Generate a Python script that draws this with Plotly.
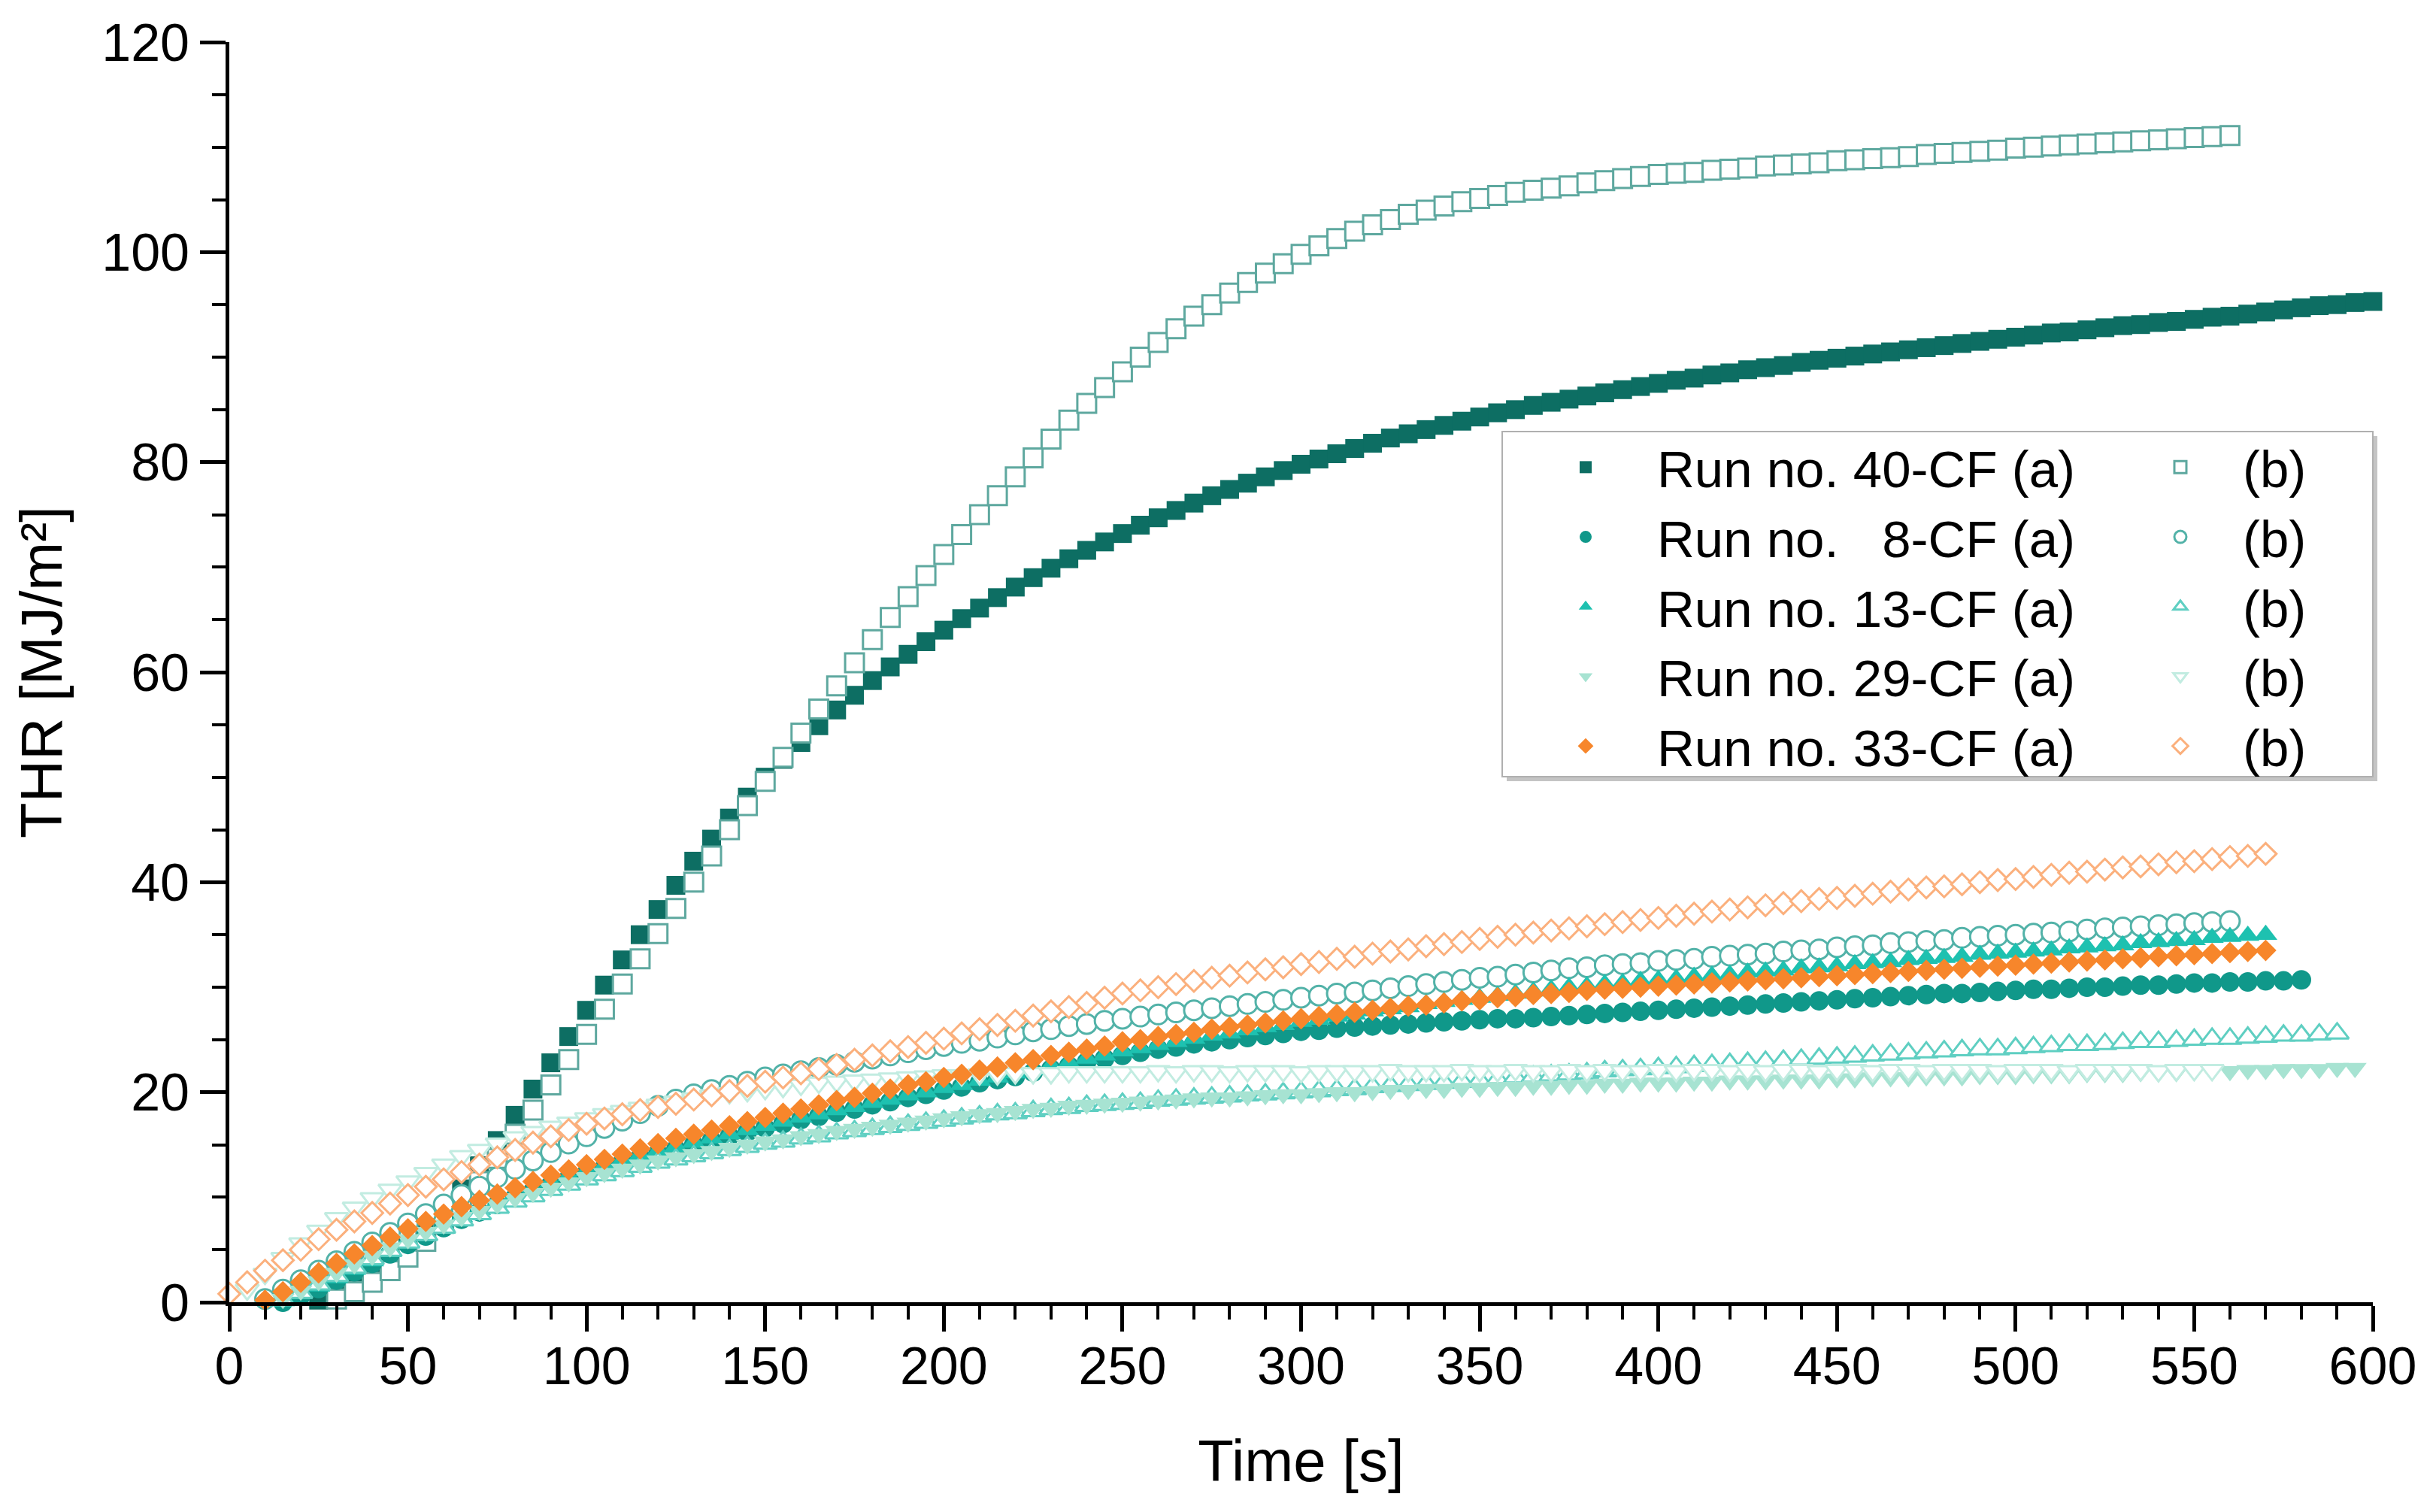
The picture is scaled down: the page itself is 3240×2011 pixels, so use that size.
import plotly.graph_objects as go

# ---------------- data ----------------
TIME = [0, 5, 10, 15, 20, 25, 30, 35, 40, 45, 50, 55, 60, 65, 70, 75, 80, 85, 90, 95,
        100, 105, 110, 115, 120, 125, 130, 135, 140, 145, 150, 155, 160, 165, 170, 175,
        180, 185, 190, 195, 200, 205, 210, 215, 220, 225, 230, 235, 240, 245, 250, 255,
        260, 265, 270, 275, 280, 285, 290, 295, 300, 305, 310, 315, 320, 325, 330, 335,
        340, 345, 350, 355, 360, 365, 370, 375, 380, 385, 390, 395, 400, 405, 410, 415,
        420, 425, 430, 435, 440, 445, 450, 455, 460, 465, 470, 475, 480, 485, 490, 495,
        500, 505, 510, 515, 520, 525, 530, 535, 540, 545, 550, 555, 560, 565, 570, 575,
        580, 585, 590, 595, 600]

# first sample time of each series
START_40A, START_40B = 25, 30
START_8A, START_8B = 15, 10
START_13A, START_13B = 15, 15
START_29A, START_29B = 15, 5
START_33A, START_33B = 10, 0

THR_40A = [0.2, 0.9, 1.8, 2.8, 4.0, 5.4, 7.0, 8.8, 10.8, 13.0,
           15.4, 17.8, 20.3, 22.8, 25.3, 27.8, 30.2, 32.6, 35.0, 37.4,
           39.7, 42.0, 44.1, 46.1, 48.1, 50.0, 51.7, 53.3, 54.9, 56.4,
           57.8, 59.2, 60.5, 61.7, 62.9, 64.0, 65.1, 66.1, 67.1, 68.1,
           69.0, 69.9, 70.8, 71.6, 72.4, 73.2, 74.0, 74.7, 75.4, 76.1,
           76.8, 77.4, 78.0, 78.6, 79.2, 79.8, 80.3, 80.8, 81.3, 81.8,
           82.3, 82.7, 83.1, 83.5, 83.9, 84.3, 84.7, 85.0, 85.4, 85.7,
           86.0, 86.3, 86.6, 86.9, 87.2, 87.5, 87.8, 88.0, 88.3, 88.5,
           88.8, 89.0, 89.2, 89.5, 89.7, 89.9, 90.1, 90.3, 90.5, 90.7,
           90.9, 91.1, 91.3, 91.5, 91.7, 91.9, 92.1, 92.3, 92.4, 92.6,
           92.8, 93.0, 93.1, 93.3, 93.4, 93.6, 93.8, 93.9, 94.1, 94.3,
           94.5, 94.7, 94.9, 95.0, 95.2, 95.3]

THR_40B = [0.3, 1.0, 1.9, 3.0, 4.3, 5.8, 7.5, 9.4, 11.5, 13.7,
           16.0, 18.3, 20.7, 23.1, 25.5, 27.9, 30.3, 32.7, 35.1, 37.5,
           40.0, 42.5, 45.0, 47.3, 49.6, 51.9, 54.2, 56.5, 58.7, 60.9,
           63.1, 65.2, 67.2, 69.2, 71.2, 73.1, 75.0, 76.8, 78.6, 80.4,
           82.2, 84.0, 85.6, 87.1, 88.6, 90.0, 91.4, 92.7, 93.9, 95.0,
           96.1, 97.1, 98.0, 98.9, 99.8, 100.6, 101.3, 102.0, 102.6, 103.1,
           103.6, 104.0, 104.4, 104.8, 105.1, 105.4, 105.7, 105.9, 106.1, 106.3,
           106.6, 106.8, 107.0, 107.2, 107.4, 107.5, 107.6, 107.8, 107.9, 108.0,
           108.2, 108.3, 108.4, 108.5, 108.7, 108.8, 108.9, 109.0, 109.1, 109.3,
           109.4, 109.5, 109.6, 109.7, 109.9, 110.0, 110.1, 110.2, 110.3, 110.4,
           110.5, 110.6, 110.7, 110.8, 110.9, 111.0, 111.1]

THR_8A = [0.0, 0.6, 1.3, 2.1, 2.9, 3.7, 4.6, 5.5, 6.3, 7.1,
          7.9, 8.6, 9.3, 10.0, 10.6, 11.2, 11.8, 12.3, 12.8, 13.3,
          13.8, 14.2, 14.6, 15.0, 15.4, 15.8, 16.2, 16.6, 17.0, 17.4,
          17.7, 18.1, 18.4, 18.8, 19.1, 19.5, 19.8, 20.2, 20.5, 20.9,
          21.2, 21.5, 21.9, 22.2, 22.5, 22.9, 23.2, 23.5, 23.8, 24.1,
          24.3, 24.6, 24.8, 25.0, 25.2, 25.4, 25.6, 25.8, 25.9, 26.1,
          26.2, 26.3, 26.4, 26.5, 26.6, 26.7, 26.8, 26.9, 27.0, 27.0,
          27.1, 27.2, 27.3, 27.4, 27.5, 27.6, 27.7, 27.8, 27.9, 28.0,
          28.1, 28.2, 28.3, 28.4, 28.5, 28.6, 28.7, 28.8, 28.9, 29.0,
          29.1, 29.2, 29.3, 29.4, 29.4, 29.5, 29.6, 29.7, 29.8, 29.8,
          29.9, 30.0, 30.0, 30.1, 30.2, 30.2, 30.3, 30.4, 30.4, 30.5,
          30.5, 30.6, 30.6, 30.7]

THR_8B = [0.3, 1.2, 2.1, 3.0, 3.9, 4.8, 5.7, 6.6, 7.5, 8.4,
          9.3, 10.2, 11.0, 11.9, 12.7, 13.5, 14.3, 15.1, 15.8, 16.6,
          17.3, 18.0, 18.7, 19.3, 19.8, 20.2, 20.6, 21.0, 21.4, 21.7,
          22.0, 22.3, 22.6, 22.9, 23.2, 23.5, 23.8, 24.1, 24.4, 24.7,
          24.9, 25.2, 25.5, 25.8, 26.0, 26.3, 26.5, 26.8, 27.0, 27.2,
          27.4, 27.6, 27.8, 28.0, 28.2, 28.4, 28.6, 28.8, 29.0, 29.2,
          29.4, 29.5, 29.7, 29.9, 30.1, 30.3, 30.5, 30.7, 30.9, 31.0,
          31.2, 31.4, 31.6, 31.8, 31.9, 32.1, 32.2, 32.3, 32.5, 32.6,
          32.7, 32.9, 33.0, 33.1, 33.2, 33.4, 33.5, 33.6, 33.8, 33.9,
          34.0, 34.2, 34.3, 34.4, 34.5, 34.7, 34.8, 34.9, 35.0, 35.1,
          35.2, 35.3, 35.5, 35.6, 35.7, 35.8, 35.9, 36.0, 36.1, 36.2,
          36.3]

THR_13A = [0.2, 0.8, 1.5, 2.3, 3.1, 3.9, 4.8, 5.7, 6.5, 7.3,
           8.1, 8.8, 9.5, 10.2, 10.8, 11.4, 12.0, 12.5, 13.0, 13.5,
           14.0, 14.4, 14.8, 15.2, 15.6, 16.0, 16.4, 16.8, 17.2, 17.6,
           17.9, 18.3, 18.6, 19.0, 19.3, 19.7, 20.0, 20.4, 20.7, 21.1,
           21.4, 21.8, 22.1, 22.5, 22.8, 23.2, 23.5, 23.9, 24.2, 24.5,
           24.8, 25.1, 25.4, 25.6, 25.9, 26.2, 26.4, 26.7, 26.9, 27.2,
           27.4, 27.7, 27.9, 28.1, 28.4, 28.6, 28.8, 29.0, 29.2, 29.4,
           29.6, 29.8, 30.0, 30.1, 30.3, 30.4, 30.6, 30.7, 30.8, 31.0,
           31.1, 31.2, 31.4, 31.5, 31.6, 31.8, 31.9, 32.0, 32.2, 32.3,
           32.4, 32.6, 32.7, 32.8, 32.9, 33.1, 33.2, 33.3, 33.4, 33.5,
           33.7, 33.8, 33.9, 34.0, 34.2, 34.3, 34.4, 34.5, 34.7, 34.8,
           34.9, 35.0]

THR_13B = [0.2, 0.9, 1.7, 2.5, 3.3, 4.1, 4.9, 5.7, 6.4, 7.1,
           7.8, 8.4, 9.0, 9.6, 10.1, 10.7, 11.2, 11.7, 12.1, 12.5,
           12.9, 13.3, 13.6, 13.9, 14.2, 14.5, 14.8, 15.1, 15.3, 15.6,
           15.8, 16.1, 16.3, 16.5, 16.7, 16.9, 17.1, 17.3, 17.5, 17.7,
           17.9, 18.0, 18.2, 18.4, 18.5, 18.7, 18.8, 18.9, 19.0, 19.2,
           19.3, 19.4, 19.5, 19.6, 19.7, 19.8, 19.9, 20.0, 20.1, 20.2,
           20.3, 20.5, 20.6, 20.7, 20.8, 20.9, 21.0, 21.1, 21.2, 21.4,
           21.5, 21.6, 21.7, 21.8, 22.0, 22.1, 22.2, 22.3, 22.4, 22.5,
           22.6, 22.7, 22.8, 22.9, 23.0, 23.1, 23.2, 23.3, 23.4, 23.5,
           23.6, 23.7, 23.8, 23.9, 24.0, 24.1, 24.1, 24.2, 24.3, 24.4,
           24.5, 24.5, 24.6, 24.7, 24.8, 24.8, 24.9, 25.0, 25.1, 25.1,
           25.2, 25.3, 25.4, 25.4, 25.5, 25.6]

THR_29A = [0.3, 1.1, 2.0, 2.8, 3.6, 4.4, 5.2, 6.0, 6.7, 7.4,
           8.1, 8.7, 9.3, 9.9, 10.4, 10.9, 11.4, 11.9, 12.3, 12.7,
           13.1, 13.5, 13.8, 14.1, 14.4, 14.7, 15.0, 15.3, 15.5, 15.8,
           16.0, 16.3, 16.5, 16.7, 16.9, 17.1, 17.3, 17.5, 17.7, 17.9,
           18.0, 18.2, 18.4, 18.5, 18.7, 18.8, 18.9, 19.0, 19.1, 19.2,
           19.3, 19.4, 19.5, 19.5, 19.6, 19.7, 19.8, 19.8, 19.9, 20.0,
           20.0, 20.1, 20.2, 20.2, 20.3, 20.3, 20.4, 20.4, 20.5, 20.5,
           20.6, 20.6, 20.7, 20.7, 20.8, 20.8, 20.9, 20.9, 20.9, 21.0,
           21.0, 21.1, 21.1, 21.1, 21.2, 21.2, 21.2, 21.3, 21.3, 21.4,
           21.4, 21.4, 21.5, 21.5, 21.5, 21.6, 21.6, 21.6, 21.7, 21.7,
           21.7, 21.8, 21.8, 21.8, 21.9, 21.9, 21.9, 22.0, 22.0, 22.0,
           22.1, 22.1, 22.2, 22.2, 22.2, 22.3, 22.3]

THR_29B = [1.2, 2.7, 4.2, 5.6, 6.8, 8.0, 9.0, 9.9, 10.7, 11.5,
           12.3, 13.1, 13.9, 14.5, 15.1, 15.7, 16.2, 16.7, 17.1, 17.5,
           17.9, 18.2, 18.5, 18.8, 19.1, 19.4, 19.7, 19.9, 20.1, 20.3,
           20.5, 20.7, 20.9, 21.0, 21.1, 21.2, 21.3, 21.4, 21.5, 21.6,
           21.6, 21.7, 21.7, 21.8, 21.8, 21.8, 21.9, 21.9, 21.9, 21.9,
           21.9, 22.0, 21.9, 22.0, 22.0, 21.9, 22.0, 22.0, 22.0, 21.9,
           22.0, 22.0, 22.0, 22.0, 22.1, 22.0, 22.0, 22.0, 22.1, 22.0,
           22.0, 22.1, 22.0, 22.0, 22.1, 22.0, 22.1, 22.0, 22.0, 22.1,
           22.0, 22.1, 22.1, 22.0, 22.1, 22.0, 22.1, 22.1, 22.0, 22.1,
           22.1, 22.0, 22.1, 22.1, 22.0, 22.1, 22.1, 22.1, 22.0, 22.1,
           22.1, 22.1, 22.0, 22.1, 22.1, 22.1, 22.1, 22.0, 22.1, 22.1,
           22.1]

THR_33A = [0.2, 1.0, 1.9, 2.8, 3.7, 4.6, 5.4, 6.2, 7.0, 7.7,
           8.4, 9.1, 9.7, 10.3, 10.9, 11.5, 12.1, 12.6, 13.1, 13.6,
           14.1, 14.6, 15.1, 15.6, 16.0, 16.4, 16.8, 17.2, 17.6, 18.0,
           18.4, 18.8, 19.2, 19.5, 19.9, 20.3, 20.7, 21.0, 21.4, 21.7,
           22.1, 22.4, 22.8, 23.1, 23.5, 23.8, 24.1, 24.4, 24.8, 25.0,
           25.3, 25.5, 25.7, 26.0, 26.2, 26.4, 26.6, 26.8, 27.0, 27.2,
           27.4, 27.6, 27.8, 28.0, 28.2, 28.3, 28.5, 28.7, 28.8, 29.0,
           29.1, 29.3, 29.4, 29.5, 29.7, 29.8, 29.9, 30.0, 30.1, 30.2,
           30.3, 30.4, 30.5, 30.6, 30.7, 30.8, 30.9, 31.0, 31.1, 31.2,
           31.3, 31.4, 31.5, 31.6, 31.7, 31.8, 31.9, 32.0, 32.1, 32.2,
           32.3, 32.4, 32.5, 32.6, 32.7, 32.8, 32.9, 33.0, 33.1, 33.2,
           33.3, 33.4, 33.5]

THR_33B = [0.8, 1.9, 3.0, 4.0, 5.0, 6.0, 6.9, 7.7, 8.5, 9.4,
           10.2, 11.0, 11.7, 12.4, 13.1, 13.8, 14.5, 15.2, 15.8, 16.4,
           17.0, 17.5, 17.9, 18.3, 18.6, 18.9, 19.3, 19.7, 20.1, 20.6,
           21.0, 21.4, 21.8, 22.2, 22.6, 23.1, 23.5, 23.9, 24.3, 24.7,
           25.1, 25.6, 26.0, 26.4, 26.8, 27.3, 27.7, 28.1, 28.5, 29.0,
           29.4, 29.7, 30.0, 30.3, 30.6, 30.9, 31.1, 31.4, 31.7, 31.9,
           32.2, 32.4, 32.7, 32.9, 33.2, 33.4, 33.6, 33.9, 34.1, 34.3,
           34.6, 34.8, 35.0, 35.2, 35.4, 35.6, 35.8, 36.0, 36.2, 36.4,
           36.6, 36.8, 37.0, 37.2, 37.4, 37.6, 37.8, 38.0, 38.2, 38.4,
           38.5, 38.7, 38.9, 39.1, 39.3, 39.5, 39.6, 39.8, 40.0, 40.2,
           40.3, 40.5, 40.7, 40.9, 41.0, 41.2, 41.4, 41.5, 41.7, 41.9,
           42.0, 42.2, 42.4, 42.5, 42.7]

NAMES_A = ["Run no. 40-CF (a)", "Run no. \u20078-CF (a)", "Run no. 13-CF (a)",
           "Run no. 29-CF (a)", "Run no. 33-CF (a)"]
NAME_B = "(b)"

X_TICKS = [0, 50, 100, 150, 200, 250, 300, 350, 400, 450, 500, 550, 600]
Y_TICKS = [0, 20, 40, 60, 80, 100, 120]

# ---------------- styling ----------------
FONT = "Liberation Sans, Arial, sans-serif"
W, H = 3240, 2011
L, R, T, B = 305, 84, 56, 279
PW, PH = W - L - R, H - T - B


def px_x(px):
    return (px - L) / PW


def px_y(py):
    return (H - B - py) / PH


def times_from(start, vals):
    i0 = TIME.index(start)
    return TIME[i0:i0 + len(vals)]


# (values, start, name, legend, symbol, size, colour, filled)
traces = [
    (THR_40A, START_40A, NAMES_A[0], "legend", "square", 25, "#0d6e63", True),
    (THR_40B, START_40B, NAME_B, "legend2", "square", 25, "#5ea89f", False),
    (THR_8A, START_8A, NAMES_A[1], "legend", "circle", 26, "#10988a", True),
    (THR_8B, START_8B, NAME_B, "legend2", "circle", 26, "#52b2a8", False),
    (THR_13A, START_13A, NAMES_A[2], "legend", "triangle-up", 27, "#1ec1b0", True),
    (THR_13B, START_13B, NAME_B, "legend2", "triangle-up", 27, "#5fcfc2", False),
    (THR_29A, START_29A, NAMES_A[3], "legend", "triangle-down", 27, "#a7e3d2", True),
    (THR_29B, START_29B, NAME_B, "legend2", "triangle-down", 27, "#c2ece1", False),
    (THR_33A, START_33A, NAMES_A[4], "legend", "diamond", 22, "#f7862b", True),
    (THR_33B, START_33B, NAME_B, "legend2", "diamond", 22, "#fbb07d", False),
]

fig = go.Figure()
for vals, start, name, leg, sym, size, col, filled in traces:
    if filled:
        marker = dict(symbol=sym, size=size, color=col, line=dict(width=0))
    else:
        marker = dict(symbol=sym, size=size, color="white", line=dict(width=3, color=col))
    fig.add_trace(go.Scatter(
        x=times_from(start, vals), y=vals, mode="markers", name=name,
        legend=leg, marker=marker, cliponaxis=False, showlegend=True,
    ))

axis_common = dict(
    showline=True, linecolor="black", linewidth=5, mirror=False,
    ticks="outside", ticklen=34, tickwidth=5, tickcolor="black",
    showgrid=False, zeroline=False,
    tickfont=dict(family=FONT, size=70, color="black"),
)

fig.update_xaxes(
    range=[0, 600], tickvals=X_TICKS, ticktext=[str(v) for v in X_TICKS],
    ticklabelstandoff=-14,
    minor=dict(dtick=10, tick0=0, ticks="outside", ticklen=18, tickwidth=4,
               tickcolor="black", showgrid=False),
    title=dict(text="Time [s]", font=dict(family=FONT, size=78, color="black"), standoff=62),
    **axis_common,
)
fig.update_yaxes(
    range=[0, 120], tickvals=Y_TICKS, ticktext=[str(v) for v in Y_TICKS],
    minor=dict(dtick=5, tick0=0, ticks="outside", ticklen=18, tickwidth=4,
               tickcolor="black", showgrid=False),
    title=dict(text="THR [MJ/m\u00b2]", font=dict(family=FONT, size=78, color="black"), standoff=28),
    **axis_common,
)

legend_font = dict(family=FONT, size=69, color="black")
box_left, box_right, box_top, box_bottom = 1998, 3156, 574, 1033

fig.update_layout(
    width=W, height=H,
    margin=dict(l=L, r=R, t=T, b=B, autoexpand=False),
    paper_bgcolor="white", plot_bgcolor="white",
    font=dict(family=FONT, color="black"),
    legend=dict(x=px_x(2014), y=px_y(box_top - 4), xanchor="left", yanchor="top",
                bgcolor="rgba(0,0,0,0)", borderwidth=0, font=legend_font,
                itemwidth=180, tracegroupgap=0, itemsizing="trace"),
    legend2=dict(x=px_x(2817), y=px_y(box_top - 4), xanchor="left", yanchor="top",
                 bgcolor="rgba(0,0,0,0)", borderwidth=0, font=legend_font,
                 itemwidth=156, tracegroupgap=0, itemsizing="trace"),
    shapes=[
        dict(type="rect", xref="paper", yref="paper", layer="above",
             x0=px_x(box_left + 6), x1=px_x(box_right + 6),
             y0=px_y(box_bottom + 6), y1=px_y(box_top + 6),
             fillcolor="#c4c4c4", line=dict(width=0)),
        dict(type="rect", xref="paper", yref="paper", layer="above",
             x0=px_x(box_left), x1=px_x(box_right),
             y0=px_y(box_bottom), y1=px_y(box_top),
             fillcolor="white", line=dict(width=2, color="#b0b0b0")),
    ],
    showlegend=True,
)

fig.write_html("out.html", include_plotlyjs=True, config={"displayModeBar": False},
               post_script="document.body.style.margin='0';document.body.style.overflow='hidden';")
